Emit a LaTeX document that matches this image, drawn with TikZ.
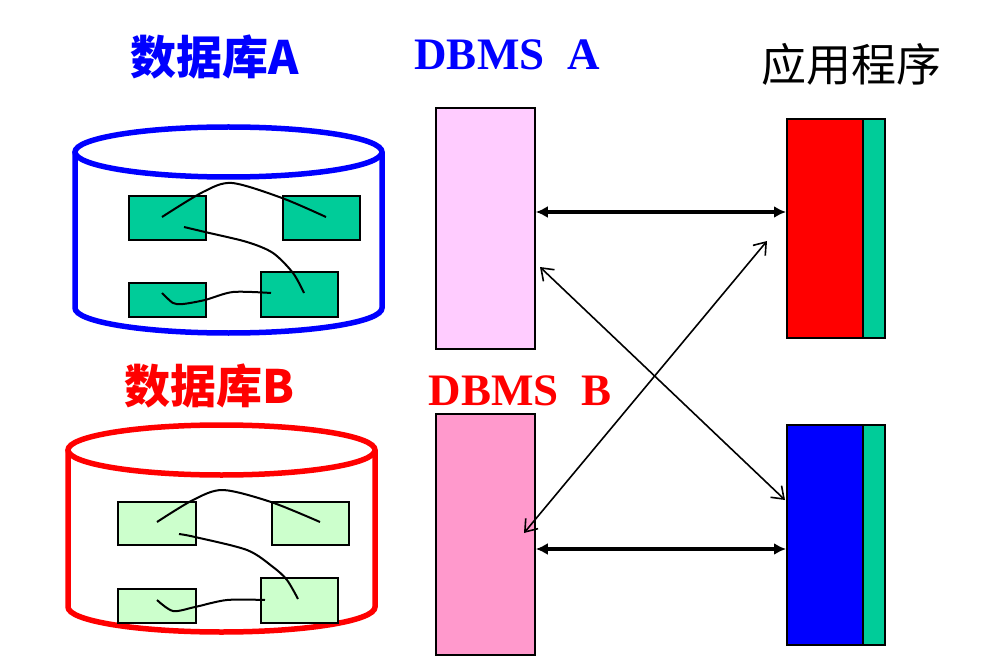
\documentclass[tikz,border=0pt]{standalone}
\usepackage{fontspec}
\setmainfont{Liberation Serif}
\newfontfamily\cjk{Noto Sans CJK SC}
\usetikzlibrary{arrows.meta}
\definecolor{dbpinkA}{RGB}{255,204,255}
\definecolor{dbpinkB}{RGB}{255,153,204}
\definecolor{tgreen}{RGB}{0,204,153}
\definecolor{lgreen}{RGB}{204,255,204}
\tikzset{
  cyl/.style={line width=5.5pt, fill=white},
  rec/.style={draw=black, line width=1.8pt, inner sep=0pt, anchor=north west},
  link/.style={line width=2pt, draw=black},
  harrow/.style={line width=3.6pt, {Latex[length=12pt,width=12pt]}-{Latex[length=12pt,width=12pt]}},
  darrow/.style={line width=1.6pt, {Straight Barb[length=11pt,width=16pt]}-{Straight Barb[length=11pt,width=16pt]}},
  cjkbold/.style={font=\cjk\bfseries\fontsize{46}{46}\selectfont},
  dbms/.style={font=\bfseries\fontsize{45}{45}\selectfont, anchor=base}
}
\newcommand{\mkrec}[6]{\node[rec, fill=#2, minimum width=#5-#3, minimum height=#6-#4] (#1) at (#3,#4) {};}
\begin{document}
\begin{tikzpicture}[x=1pt,y=-1pt]
\useasboundingbox (0,0) rectangle (988,663);
% ---------- cylinder A ----------
\draw[cyl, draw=blue] (75,152) -- (75,308) arc[start angle=180, end angle=0, x radius=153.5, y radius=25] -- (382,152);
\draw[cyl, draw=blue] (228.5,152) ellipse[x radius=153.5, y radius=25];
\mkrec{a1}{tgreen}{128}{195}{205}{239}
\mkrec{a2}{tgreen}{282}{195}{359}{239}
\mkrec{a3}{tgreen}{128}{282}{205}{316}
\mkrec{a4}{tgreen}{260}{271}{337}{316}
\draw[link] plot[smooth] coordinates {(162,217) (203,192) (232,183) (282,198) (326,217)};
\draw[link] plot[smooth] coordinates {(184,227) (205,232) (247,242) (273,253) (293,273) (304,293)};
\draw[link] plot[smooth] coordinates {(162,293) (173,303) (183,304) (205,300) (233,292) (271,293)};
% ---------- cylinder B ----------
\draw[cyl, draw=red] (68,450) -- (68,607) arc[start angle=180, end angle=0, x radius=153.5, y radius=25] -- (375,450);
\draw[cyl, draw=red] (221.5,450) ellipse[x radius=153.5, y radius=25];
\mkrec{b1}{lgreen}{117}{501}{195}{544}
\mkrec{b2}{lgreen}{271}{501}{348}{544}
\mkrec{b3}{lgreen}{117}{588}{195}{622}
\mkrec{b4}{lgreen}{260}{577}{337}{622}
\draw[link] plot[smooth] coordinates {(157,522) (193,500) (223,490) (271,502) (320,522)};
\draw[link] plot[smooth] coordinates {(179,534) (195,537) (247,550) (273,567) (287,580) (298,599)};
\draw[link] plot[smooth] coordinates {(157,600) (173,611) (195,607) (227,600) (265,600)};
% ---------- DBMS boxes ----------
\mkrec{dbA}{dbpinkA}{435}{107}{534}{348}
\mkrec{dbB}{dbpinkB}{435}{413}{534}{654}
% ---------- applications ----------
\mkrec{appA}{red}{786}{118}{862}{337}
\mkrec{appAs}{tgreen}{862}{118}{884}{337}
\mkrec{appB}{blue}{786}{424}{862}{644}
\mkrec{appBs}{tgreen}{862}{424}{884}{644}
% ---------- arrows ----------
\coordinate (h1) at (0,212);
\coordinate (h2) at (0,549);
\draw[harrow] (dbA.east |- h1) -- (appA.west |- h1);
\draw[harrow] (dbB.east |- h2) -- (appB.west |- h2);
\coordinate (d1s) at (540,267);
\coordinate (d1e) at (785,500);
\coordinate (d2s) at (767,241);
\coordinate (d2e) at (524,533);
\draw[darrow] (d1s) -- (d1e);
\draw[darrow] (d2s) -- (d2e);
% ---------- labels ----------
\node[cjkbold, text=blue] (tA) at (215,57) {数据库A};
\node[cjkbold, text=red] (tB) at (209,386) {数据库B};
\node[dbms, text=blue] (dA) at (507,70) {DBMS\ \ A};
\node[dbms, text=red] (dB) at (520,405) {DBMS\ \ B};
\node[font=\cjk\fontsize{45}{45}\selectfont] (app) at (851,64) {应用程序};
\end{tikzpicture}
\end{document}
